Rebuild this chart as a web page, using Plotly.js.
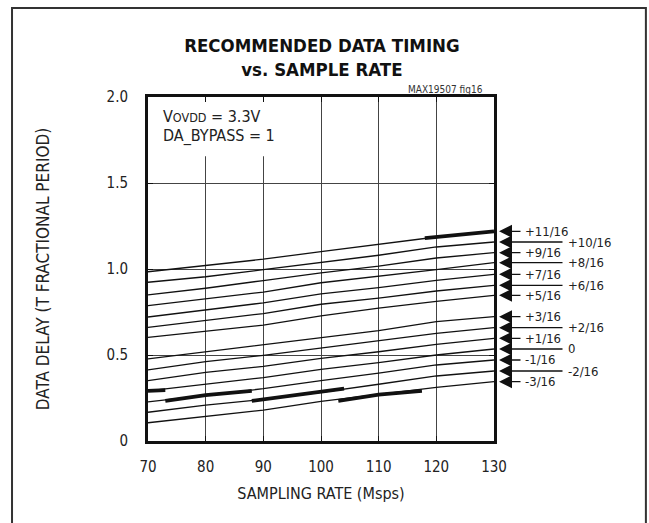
<!DOCTYPE html>
<html><head><meta charset="utf-8">
<script src="https://cdn.plot.ly/plotly-3.0.1.min.js"></script>
<style>html,body{margin:0;padding:0;background:#fff;} #chart{width:649px;height:523px;}</style>
</head><body><div id="chart"></div>
<script>
// ---- data ----
const samplingRate = [70, 80, 90, 100, 110, 120, 130];
const settingLabels = ['+11/16','+10/16','+9/16','+8/16','+7/16','+6/16','+5/16','+3/16','+2/16','+1/16','0','-1/16','-2/16','-3/16'];
const delayP11 = [0.984, 1.019, 1.057, 1.101, 1.144, 1.186, 1.219];
const delayP10 = [0.923, 0.955, 0.996, 1.037, 1.080, 1.128, 1.157];
const delayP9  = [0.849, 0.888, 0.933, 0.978, 1.017, 1.064, 1.095];
const delayP8  = [0.787, 0.827, 0.866, 0.920, 0.956, 0.996, 1.037];
const delayP7  = [0.721, 0.762, 0.803, 0.855, 0.892, 0.934, 0.969];
const delayP6  = [0.661, 0.699, 0.741, 0.795, 0.831, 0.872, 0.905];
const delayP5  = [0.603, 0.640, 0.674, 0.727, 0.772, 0.812, 0.847];
const delayP3  = [0.477, 0.519, 0.558, 0.603, 0.642, 0.694, 0.723];
const delayP2  = [0.413, 0.461, 0.498, 0.542, 0.584, 0.626, 0.659];
const delayP1  = [0.351, 0.399, 0.434, 0.481, 0.519, 0.562, 0.597];
const delay0   = [0.292, 0.331, 0.369, 0.417, 0.456, 0.500, 0.535];
const delayM1  = [0.228, 0.267, 0.304, 0.351, 0.394, 0.442, 0.471];
const delayM2  = [0.167, 0.209, 0.242, 0.283, 0.330, 0.378, 0.407];
const delayM3  = [0.106, 0.145, 0.180, 0.230, 0.269, 0.312, 0.345];
const allDelays = [delayP11, delayP10, delayP9, delayP8, delayP7, delayP6, delayP5,
                   delayP3, delayP2, delayP1, delay0, delayM1, delayM2, delayM3];
// labels drawn in the far (second) column
const longLabel = [false, true, false, true, false, true, false, false, true, false, true, false, true, false];

// recommended (bold) segments
const bold1X = [70, 73];                 const bold1Y = [0.292, 0.296];
const bold2X = [73, 80, 88];             const bold2Y = [0.233, 0.267, 0.292];
const bold3X = [88, 90, 100, 104];       const bold3Y = [0.233, 0.242, 0.283, 0.304];
const bold4X = [103, 110, 117.5];        const bold4Y = [0.233, 0.269, 0.291];
const bold5X = [118, 120, 130];          const bold5Y = [1.180, 1.186, 1.219];

const yTickVals = [0, 0.5, 1.0, 1.5, 2.0];
const yTickText = ['0', '0.5', '1.0', '1.5', '2.0'];
const xTickVals = [70, 80, 90, 100, 110, 120, 130];

// ---- drawing ----
const FONT = '"DejaVu Sans Condensed", "Liberation Sans Narrow", sans-serif';
const traces = [];
allDelays.forEach((ys, i) => {
  traces.push({x: samplingRate, y: ys, mode: 'lines', name: settingLabels[i],
    line: {color: '#111', width: 1.3}, hoverinfo: 'skip'});
});
[[bold1X, bold1Y], [bold2X, bold2Y], [bold3X, bold3Y], [bold4X, bold4Y], [bold5X, bold5Y]].forEach(([bx, by]) => {
  traces.push({x: bx, y: by, mode: 'lines', line: {color: '#111', width: 3.8}, hoverinfo: 'skip'});
});

const annotations = [];
allDelays.forEach((ys, i) => {
  const yEnd = ys[ys.length - 1];
  annotations.push({x: 130, y: yEnd, xref: 'x', yref: 'y', text: '', showarrow: true,
    axref: 'pixel', ayref: 'pixel', ax: longLabel[i] ? 70 : 28, ay: 0,
    arrowhead: 2, arrowsize: 2.0, arrowwidth: 1.3, arrowcolor: '#111', standoff: 5});
  annotations.push({x: 130, y: yEnd, xref: 'x', yref: 'y', text: settingLabels[i], showarrow: false,
    xanchor: 'left', yanchor: 'middle', xshift: longLabel[i] ? 72 : 29,
    font: {family: FONT, size: 13, color: '#222'}});
});
annotations.push({xref: 'paper', yref: 'paper', x: 0.974, y: 1.023, xanchor: 'right', yanchor: 'middle',
  text: 'MAX19507 fig16', showarrow: false, font: {family: FONT, size: 10, color: '#333'}});
annotations.push({xref: 'paper', yref: 'paper', x: 0.038, y: 0.942, xanchor: 'left', yanchor: 'middle',
  text: 'V<span style="font-size:12.5px">OVDD</span> = 3.3V', showarrow: false, font: {family: FONT, size: 16, color: '#222'}});
annotations.push({xref: 'paper', yref: 'paper', x: 0.038, y: 0.887, xanchor: 'left', yanchor: 'middle',
  text: 'DA_BYPASS = 1', showarrow: false, font: {family: FONT, size: 16, color: '#222'}});

const layout = {
  width: 649, height: 523,
  margin: {l: 148, r: 155, t: 97, b: 82},
  paper_bgcolor: '#fff', plot_bgcolor: '#fff',
  showlegend: false,
  font: {family: FONT, size: 15, color: '#222'},
  title: {text: '<b>RECOMMENDED DATA TIMING</b><br><b>vs. SAMPLE RATE</b>',
    font: {family: FONT, size: 18.5, color: '#111'},
    x: 0.496, xanchor: 'center', y: 0.90, yanchor: 'top', yref: 'container'},
  xaxis: {range: [70, 130], tickvals: xTickVals, showgrid: true, gridcolor: '#444', gridwidth: 1,
    showline: true, linewidth: 3, linecolor: '#111', mirror: 'ticks', ticks: 'inside', ticklen: 5,
    tickcolor: '#111', tickwidth: 1, zeroline: false, ticklabelstandoff: 10,
    tickfont: {family: FONT, size: 15, color: '#222'},
    title: {text: 'SAMPLING RATE (Msps)', font: {family: FONT, size: 16, color: '#222'}, standoff: 13}},
  yaxis: {range: [0, 2], tickvals: yTickVals, ticktext: yTickText, showgrid: true, gridcolor: '#444', gridwidth: 1,
    showline: true, linewidth: 3, linecolor: '#111', mirror: 'ticks', ticks: 'inside', ticklen: 5,
    tickcolor: '#111', tickwidth: 1, zeroline: false, ticklabelstandoff: 14,
    tickfont: {family: FONT, size: 15, color: '#222'},
    title: {text: 'DATA DELAY (T FRACTIONAL PERIOD)', font: {family: FONT, size: 17, color: '#222'}, standoff: 53}},
  shapes: [
    {type: 'rect', xref: 'x', yref: 'y', x0: 70.4, x1: 92, y0: 1.655, y1: 1.99,
      fillcolor: '#fff', line: {width: 0}, layer: 'between'},
    {type: 'rect', xref: 'paper', yref: 'paper', x0: -0.393, x1: 1.439, y0: -0.29, y1: 1.259,
      line: {color: '#333', width: 2}, fillcolor: 'rgba(0,0,0,0)', layer: 'above'}
  ],
  annotations: annotations
};

Plotly.newPlot('chart', traces, layout, {staticPlot: true, displayModeBar: false});
</script></body></html>
